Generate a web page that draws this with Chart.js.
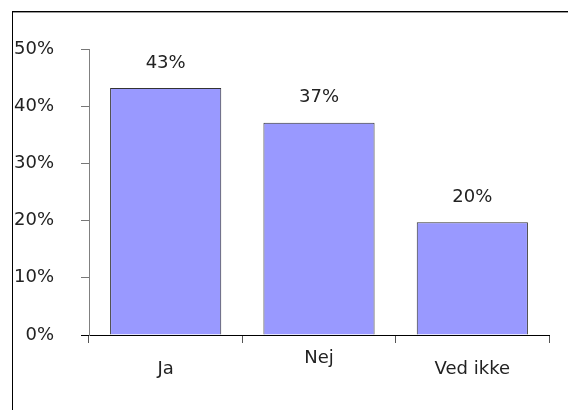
<!DOCTYPE html>
<html>
<head>
<meta charset="utf-8">
<script src="https://cdn.jsdelivr.net/npm/chart.js@4/dist/chart.umd.min.js"></script>
<style>
  html, body { margin: 0; padding: 0; background: #fff; width: 568px; height: 410px; overflow: hidden; }
  #frame { position: absolute; left: 12px; top: 11px; width: 600px; height: 500px;
           border-left: 1px solid #000; border-top: 1px solid #000; box-shadow: inset 0 1px 0 #9a9a9a; }
  #c { position: absolute; left: 0; top: 0; }
</style>
</head>
<body>
<div id="frame"></div>
<canvas id="c" width="568" height="410"></canvas>
<script>
const categories = ["Ja", "Nej", "Ved ikke"];
const values = [43.2, 37.1, 19.7];
const yTicks = [0, 10, 20, 30, 40, 50];

const FONT = { family: "'DejaVu Sans', Verdana, sans-serif", size: 18 };

const valueLabels = {
  id: 'valueLabels',
  afterDatasetsDraw(chart) {
    const ctx = chart.ctx;
    const meta = chart.getDatasetMeta(0);
    ctx.save();
    ctx.font = FONT.size + 'px ' + FONT.family;
    ctx.fillStyle = '#222';
    ctx.textAlign = 'center';
    ctx.textBaseline = 'middle';
    meta.data.forEach((bar, i) => {
      ctx.fillText(Math.round(values[i]) + '%', bar.x, bar.y - 25);
    });
    ctx.restore();
  }
};

new Chart(document.getElementById('c'), {
  type: 'bar',
  data: {
    labels: categories,
    datasets: [{
      data: values,
      backgroundColor: '#9999ff',
      borderColor: '#333333',
      borderWidth: 1,
      barPercentage: 0.725,
      categoryPercentage: 1.0
    }]
  },
  options: {
    responsive: false,
    animation: false,
    layout: { padding: { left: 0, right: 19, top: 49, bottom: 0 } },
    plugins: { legend: { display: false }, tooltip: { enabled: false } },
    scales: {
      x: {
        grid: { display: true, drawOnChartArea: false, drawTicks: true, tickLength: 8, color: '#555', offset: true },
        border: { display: true, color: '#000', width: 1 },
        ticks: {
          color: '#222',
          font: Object.assign({}, FONT, { lineHeight: '11px' }),
          padding: 10,
          maxRotation: 0,
          autoSkip: false,
          callback: function (v, i) {
            const lab = categories[i];
            return i === 1 ? lab : ['', lab];
          }
        },
        afterFit(scale) { scale.height = 75; }
      },
      y: {
        min: 0,
        max: 50,
        afterBuildTicks(scale) { scale.ticks = yTicks.map(v => ({ value: v })); },
        grid: {
          display: true, drawOnChartArea: false, drawTicks: true, tickLength: 8,
          color: (c) => (c.tick && c.tick.value === 0 ? '#000' : '#777')
        },
        border: { display: true, color: '#808080', width: 1 },
        ticks: {
          color: '#222',
          font: FONT,
          padding: 27,
          callback: (v) => v + '%'
        },
        afterFit(scale) { scale.width = 89; }
      }
    }
  },
  plugins: [valueLabels]
});
</script>
</body>
</html>
